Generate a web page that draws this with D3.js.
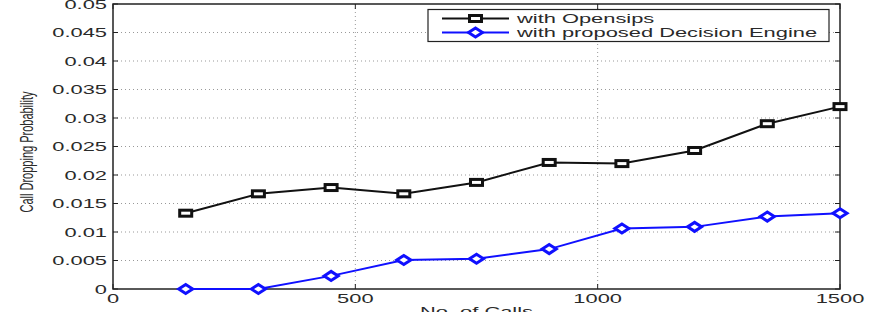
<!DOCTYPE html>
<html>
<head>
<meta charset="utf-8">
<script src="https://cdn.jsdelivr.net/npm/d3@7"></script>
<style>
  body { margin: 0; background: #fff; }
  text { font-family: "Liberation Sans", Arial, Helvetica, sans-serif; }
</style>
</head>
<body>
<div id="chart"></div>
<script>
/* DATA */
const calls = [150, 300, 450, 600, 750, 900, 1050, 1200, 1350, 1500];
const opensips = [0.0133, 0.0167, 0.0178, 0.0167, 0.0187, 0.0222, 0.0220, 0.0243, 0.0290, 0.0320];
const decisionEngine = [0, 0, 0.0023, 0.0051, 0.0053, 0.0070, 0.0106, 0.0109, 0.0127, 0.0133];
const xTicks = [0, 500, 1000, 1500];
const yTicks = [0, 0.005, 0.01, 0.015, 0.02, 0.025, 0.03, 0.035, 0.04, 0.045, 0.05];
const seriesNames = ["with Opensips", "with proposed Decision Engine"];

/* LAYOUT */
const W = 879, H = 312;
const margin = { top: 4, right: 39, bottom: 23, left: 113 };
const width = W - margin.left - margin.right;
const height = H - margin.top - margin.bottom;
const SX = 1.75; // horizontal stretch of the original figure
const FONT = 12.5;

const svg = d3.select("#chart").append("svg")
  .attr("width", W).attr("height", H);
const g = svg.append("g").attr("transform", `translate(${margin.left},${margin.top})`);

const x = d3.scaleLinear().domain([0, 1500]).range([0, width]);
const y = d3.scaleLinear().domain([0, 0.05]).range([height, 0]);

// stretched text helper
function stext(parent, tx, ty, str, anchor, size) {
  return parent.append("text")
    .attr("transform", `translate(${tx},${ty}) scale(${SX},1)`)
    .attr("text-anchor", anchor)
    .style("font-size", (size || FONT) + "px")
    .attr("fill", "#2a2a2a")
    .text(str);
}

// grid
g.append("g").selectAll("line").data(yTicks.slice(1, -1)).enter().append("line")
  .attr("x1", 0).attr("x2", width)
  .attr("y1", d => y(d)).attr("y2", d => y(d))
  .attr("stroke", "#999").attr("stroke-width", 1).attr("stroke-dasharray", "1,3");
g.append("g").selectAll("line").data(xTicks.slice(1, -1)).enter().append("line")
  .attr("y1", 0).attr("y2", height)
  .attr("x1", d => x(d)).attr("x2", d => x(d))
  .attr("stroke", "#999").attr("stroke-width", 1).attr("stroke-dasharray", "1,3");

// ticks (inward, all four sides)
const tk = g.append("g").attr("stroke", "#222").attr("stroke-width", 1);
yTicks.forEach(v => {
  tk.append("line").attr("x1", 0).attr("x2", 5).attr("y1", y(v)).attr("y2", y(v));
  tk.append("line").attr("x1", width).attr("x2", width - 5).attr("y1", y(v)).attr("y2", y(v));
});
xTicks.forEach(v => {
  tk.append("line").attr("y1", height).attr("y2", height - 5).attr("x1", x(v)).attr("x2", x(v));
  tk.append("line").attr("y1", 0).attr("y2", 5).attr("x1", x(v)).attr("x2", x(v));
});

// frame
g.append("rect").attr("width", width).attr("height", height)
  .attr("fill", "none").attr("stroke", "#222").attr("stroke-width", 1.5);

// tick labels
const fmt = d => d === 0 ? "0" : String(+d.toFixed(3));
yTicks.forEach(v => stext(g, -6, y(v) + 4.5, fmt(v), "end"));
xTicks.forEach(v => stext(g, x(v), height + 14, String(v), "middle"));

// axis titles
stext(g, width / 2, height + 27, "No. of Calls", "middle", 12.5);
g.append("text")
  .attr("transform", `translate(${-80},${148}) rotate(-90) scale(1,1.7)`)
  .attr("text-anchor", "middle")
  .style("font-size", "11px")
  .attr("fill", "#2a2a2a")
  .text("Call Dropping Probability");

// series
const line = d3.line().x((d, i) => x(calls[i])).y(d => y(d));
const diamond = (cx, cy) => `M${cx - 7},${cy}L${cx},${cy - 4.5}L${cx + 7},${cy}L${cx},${cy + 4.5}Z`;

function drawSquare(parent, cx, cy) {
  parent.append("rect")
    .attr("x", cx - 6).attr("y", cy - 3).attr("width", 12).attr("height", 6)
    .attr("fill", "#fff").attr("stroke", "#111").attr("stroke-width", 3);
}
function drawDiamond(parent, cx, cy) {
  parent.append("path").attr("d", diamond(cx, cy))
    .attr("fill", "#fff").attr("stroke", "#1010ff").attr("stroke-width", 3);
}

g.append("path").datum(opensips).attr("d", line)
  .attr("fill", "none").attr("stroke", "#111").attr("stroke-width", 2);
g.append("path").datum(decisionEngine).attr("d", line)
  .attr("fill", "none").attr("stroke", "#1010ff").attr("stroke-width", 2);

const mk = g.append("g");
opensips.forEach((v, i) => drawSquare(mk, x(calls[i]), y(v)));
decisionEngine.forEach((v, i) => drawDiamond(mk, x(calls[i]), y(v)));

// legend
const lg = svg.append("g");
lg.append("rect").attr("x", 428).attr("y", 9.5).attr("width", 401).attr("height", 32)
  .attr("fill", "#fff").attr("stroke", "#222").attr("stroke-width", 1.2);
const rows = [
  { name: seriesNames[0], color: "#111", y: 18.5, mark: drawSquare },
  { name: seriesNames[1], color: "#1010ff", y: 32.5, mark: drawDiamond }
];
rows.forEach(r => {
  lg.append("line").attr("x1", 442).attr("x2", 509).attr("y1", r.y).attr("y2", r.y)
    .attr("stroke", r.color).attr("stroke-width", 2);
  r.mark(lg, 475.5, r.y);
  stext(lg, 517, r.y + 4.5, r.name, "start");
});
</script>
</body>
</html>
